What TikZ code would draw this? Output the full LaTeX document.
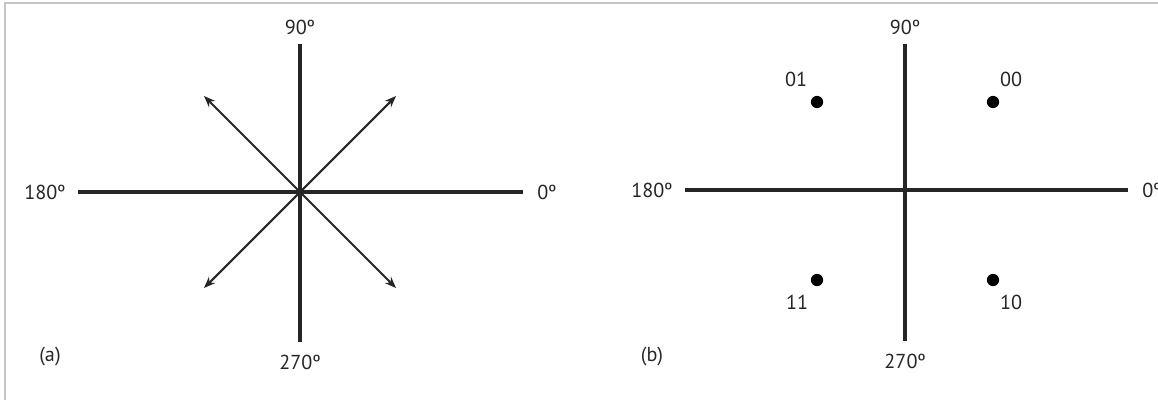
\documentclass[tikz,border=0pt]{standalone}
\usepackage{fontspec}
\setmainfont{PT Sans}
\usetikzlibrary{arrows.meta,positioning}

\begin{document}
\begin{tikzpicture}[x=0.02cm, y=-0.02cm,
  axis/.style={line width=1.8pt, black!85},
  vec/.style={-{Stealth[length=6.5pt, width=5pt]}, line width=1.2pt, black!85},
  lbl/.style={font=\fontsize{11.5}{13}\selectfont, text=black!85, inner sep=1pt},
  pt/.style={circle, fill=black, inner sep=0pt, minimum size=7pt}
]
\useasboundingbox (0,0) rectangle (1158,400);
\draw[gray!45, line width=0.8pt] (5,400) -- (5,3) -- (1158,3);

% (a) phase directions
\coordinate (oa) at (300,192);
\coordinate (ae) at (523,192);
\coordinate (aw) at (78,192);
\coordinate (an) at (300,44);
\coordinate (as) at (300,342);
\draw[axis, line width=2.3pt] (aw) -- (ae);
\draw[axis] (an) -- (as);
\foreach \dx/\dy in {1/1, 1/-1, -1/1, -1/-1}
  \draw[vec] (oa) -- ++(96*\dx, 96*\dy);
\node[lbl, above=4pt of an] (a90) {90º};
\node[lbl, below=6pt of as] (a270) {270º};
\node[lbl, left=6pt of aw] (a180) {180º};
\node[lbl, right=7pt of ae] (a0) {0º};
\node[lbl] (capa) at (50,357) {(a)};

% (b) constellation
\coordinate (ob) at (905,190);
\coordinate (be) at (1128,190);
\coordinate (bw) at (685,190);
\coordinate (bn) at (905,44);
\coordinate (bs) at (905,341);
\draw[axis] (bw) -- (be);
\draw[axis] (bn) -- (bs);
\node[lbl, above=4pt of bn] (b90) {90º};
\node[lbl, below=6pt of bs] (b270) {270º};
\node[lbl, left=6pt of bw] (b180) {180º};
\node[lbl, right=7pt of be] (b0) {0º};
\node[lbl] (capb) at (652,357) {(b)};

\node[pt] (s01) at (817,102) {};
\node[pt] (s00) at (993,102) {};
\node[pt] (s11) at (817,280) {};
\node[pt] (s10) at (993,280) {};
\node[lbl] at (796,79) {01};
\node[lbl] at (1011,79) {00};
\node[lbl] at (797,302) {11};
\node[lbl] at (1011,302) {10};
\end{tikzpicture}
\end{document}
